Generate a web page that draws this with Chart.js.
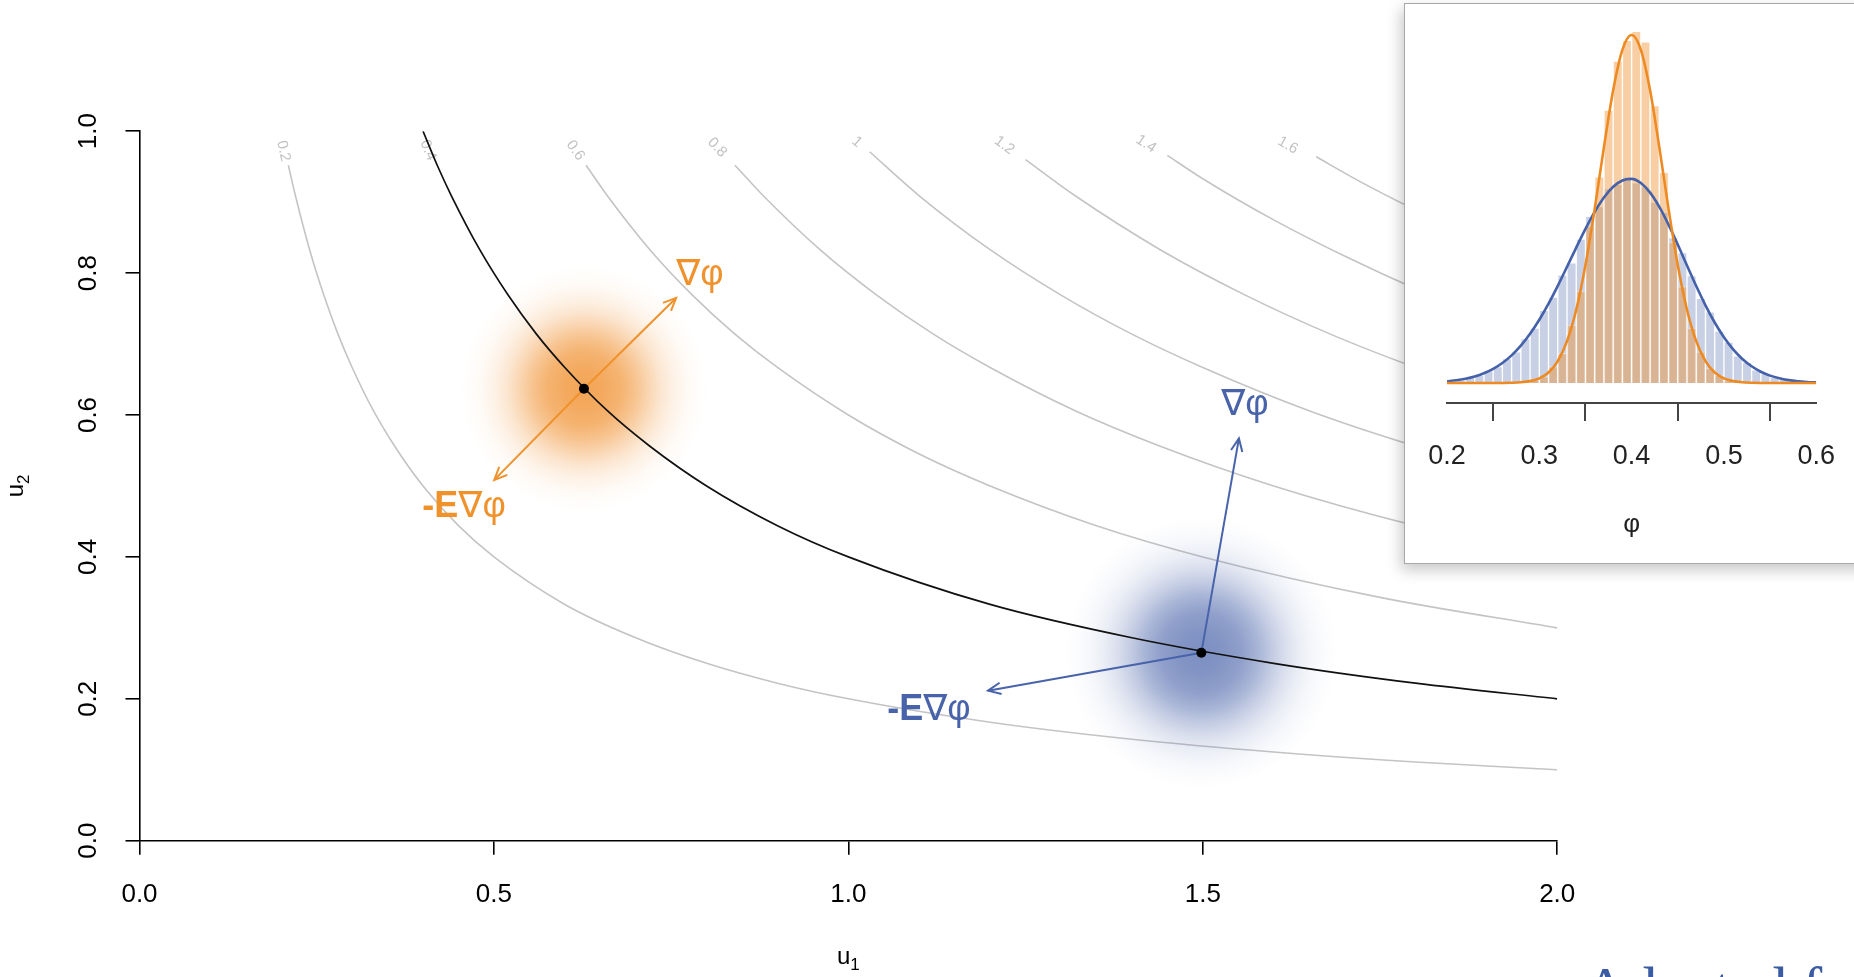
<!DOCTYPE html>
<html>
<head>
<meta charset="utf-8">
<script src="https://cdn.jsdelivr.net/npm/chart.js@4.4.1/dist/chart.umd.min.js"></script>
<style>
html, body { margin: 0; padding: 0; background: #fff; overflow: hidden; }
#wrap { position: relative; width: 1854px; height: 977px; overflow: hidden; }
#main { position: absolute; left: 0; top: 0; }
#insetBox { position: absolute; left: 1404px; top: 3px; width: 520px; height: 559px; border: 1.5px solid #a8a8a8; background: #fff; box-shadow: -3px 6px 14px rgba(0,0,0,0.22); }
#inset { position: absolute; left: 1406px; top: 4px; }
#credit { position: absolute; left: 1584px; top: 958px; font-family: 'Liberation Serif', 'Times New Roman', serif; font-size: 60px; line-height: 1; color: #3b5ca3; white-space: nowrap; }
</style>
</head>
<body>
<div id="wrap">
  <canvas id="main" width="1854" height="977"></canvas>
  <div id="insetBox"></div>
  <canvas id="inset" width="448" height="559"></canvas>
  <div id="credit">Adapted from</div>
</div>
<script>
// ---- main panel: contours of phi = u1*u2 as [u1, u2]
var level02 = [[0.21,0.952],[0.22,0.909],[0.24,0.833],[0.26,0.769],[0.28,0.714],[0.30,0.667],[0.33,0.606],[0.36,0.556],[0.40,0.500],[0.45,0.444],[0.50,0.400],[0.60,0.333],[0.70,0.286],[0.80,0.250],[0.90,0.222],[1.00,0.200],[1.20,0.167],[1.40,0.143],[1.60,0.125],[1.80,0.111],[2.00,0.100]];
var level04 = [[0.40,1.000],[0.42,0.952],[0.44,0.909],[0.48,0.833],[0.52,0.769],[0.56,0.714],[0.60,0.667],[0.66,0.606],[0.72,0.556],[0.80,0.500],[0.90,0.444],[1.00,0.400],[1.20,0.333],[1.40,0.286],[1.60,0.250],[1.80,0.222],[2.00,0.200]];
var level06 = [[0.63,0.952],[0.66,0.909],[0.72,0.833],[0.78,0.769],[0.84,0.714],[0.90,0.667],[1.00,0.600],[1.10,0.545],[1.20,0.500],[1.35,0.444],[1.50,0.400],[1.75,0.343],[2.00,0.300]];
var level08 = [[0.84,0.952],[0.88,0.909],[0.96,0.833],[1.04,0.769],[1.12,0.714],[1.20,0.667],[1.32,0.606],[1.44,0.556],[1.60,0.500],[1.80,0.444],[2.00,0.400]];
var level10 = [[1.03,0.971],[1.10,0.909],[1.20,0.833],[1.30,0.769],[1.40,0.714],[1.50,0.667],[1.65,0.606],[1.80,0.556],[2.00,0.500]];
var level12 = [[1.25,0.960],[1.32,0.909],[1.44,0.833],[1.56,0.769],[1.68,0.714],[1.80,0.667],[2.00,0.600]];
var level14 = [[1.45,0.966],[1.50,0.933],[1.60,0.875],[1.70,0.824],[1.80,0.778],[1.90,0.737],[2.00,0.700]];
var level16 = [[1.66,0.964],[1.72,0.930],[1.80,0.889],[1.90,0.842],[2.00,0.800]];
var level18 = [[1.87,0.963],[1.93,0.933],[2.00,0.900]];

var contourLabels = ['0.2','0.4','0.6','0.8','1','1.2','1.4','1.6'];
var contourLabelU1 = [0.203,0.407,0.615,0.815,1.012,1.22,1.42,1.62];
var contourLabelU2 = [0.972,0.973,0.973,0.977,0.985,0.980,0.982,0.980];

// sample clouds (centre and spread, data units)
var orangeCentre = [0.627, 0.637];
var blueCentre = [1.498, 0.265];
var cloudSpread = [0.050, 0.055];

// arrow tips
var orangeGradTip = [0.757, 0.765];
var orangeNegTip = [0.5005, 0.5085];
var blueGradTip = [1.551, 0.567];
var blueNegTip = [1.197, 0.2115];

var xTickLabels = ['0.0','0.5','1.0','1.5','2.0'];
var yTickLabels = ['0.0','0.2','0.4','0.6','0.8','1.0'];

// ---- inset: distribution of phi
var phiGrid = [0.20,0.21,0.22,0.23,0.24,0.25,0.26,0.27,0.28,0.29,0.30,0.31,0.32,0.33,0.34,0.35,0.36,0.37,0.38,0.39,0.40,0.41,0.42,0.43,0.44,0.45,0.46,0.47,0.48,0.49,0.50,0.51,0.52,0.53,0.54,0.55,0.56,0.57,0.58,0.59,0.60];
var orangeDensity = [0,0,0,0,0,0.001,0.002,0.008,0.023,0.063,0.155,0.353,0.737,1.41,2.47,3.98,5.87,7.95,9.87,11.23,11.73,11.23,9.87,7.95,5.87,3.98,2.47,1.41,0.737,0.353,0.155,0.063,0.023,0.008,0.002,0.001,0,0,0,0,0];
var blueDensity = [0.057,0.092,0.144,0.219,0.327,0.475,0.673,0.931,1.257,1.657,2.131,2.674,3.274,3.913,4.563,5.193,5.768,6.252,6.613,6.826,6.879,6.739,6.418,5.939,5.340,4.666,3.961,3.267,2.619,2.040,1.544,1.135,0.811,0.563,0.380,0.249,0.159,0.098,0.059,0.035,0.020];
var binCentres = [0.205,0.215,0.225,0.235,0.245,0.255,0.265,0.275,0.285,0.295,0.305,0.315,0.325,0.335,0.345,0.355,0.365,0.375,0.385,0.395,0.405,0.415,0.425,0.435,0.445,0.455,0.465,0.475,0.485,0.495,0.505,0.515,0.525,0.535,0.545,0.555,0.565,0.575,0.585,0.595];
var orangeHist = [0,0,0,0,0,0,0,0.01,0.04,0.11,0.22,0.55,1.00,1.95,3.10,5.30,6.95,9.20,10.85,11.55,11.85,11.50,9.35,7.10,4.75,3.25,1.85,1.05,0.50,0.26,0.09,0.04,0.01,0,0,0,0,0,0,0];
var blueHist = [0.07,0.10,0.20,0.26,0.42,0.55,0.82,1.05,1.50,1.85,2.45,2.90,3.65,4.05,4.85,5.62,5.95,6.55,6.70,6.95,6.75,6.62,6.10,5.75,4.90,4.40,3.62,2.85,2.40,1.75,1.38,0.92,0.70,0.44,0.32,0.19,0.13,0.07,0.05,0.02];
var phiTickLabels = ['0.2','0.3','0.4','0.5','0.6'];

var ORANGE = '#f0922c';
var BLUE = '#4863aa';
var FONT = "'Liberation Sans', Arial, sans-serif";

Chart.defaults.font.family = FONT;
Chart.defaults.color = '#000';

function pts(arr) { return arr.map(function(p) { return {x: p[0], y: p[1]}; }); }

// text next to the arrows
var notes = [
  {at: [0.7907, 0.7974], color: ORANGE, parts: [['\u2207\u03c6', false]]},
  {at: [0.4578, 0.4704], color: ORANGE, parts: [['-E', true], ['\u2207\u03c6', false]]},
  {at: [1.5594, 0.6142], color: BLUE, parts: [['\u2207\u03c6', false]]},
  {at: [1.1137, 0.1843], color: BLUE, parts: [['-E', true], ['\u2207\u03c6', false]]}
];

function cloudPx(c, idx) {
  var sx = c.chart.scales.x;
  return cloudSpread[idx] * 3.5 * (sx.getPixelForValue(1) - sx.getPixelForValue(0));
}
function cloudColour(rgb, idx, core) {
  return function(c) {
    if (!c.raw) return 'rgba(0,0,0,0)';
    var ch = c.chart, sx = ch.scales.x, sy = ch.scales.y;
    var px = sx.getPixelForValue(c.raw.x), py = sy.getPixelForValue(c.raw.y);
    var r = cloudPx(c, idx);
    if (!isFinite(px) || !isFinite(py) || !(r > 0)) return 'rgba(0,0,0,0)';
    var g = ch.ctx.createRadialGradient(px, py, 0, px, py, r);
    var stops = [[0,1],[0.15,0.96],[0.3,0.85],[0.42,0.66],[0.52,0.46],[0.62,0.28],[0.72,0.15],[0.82,0.07],[0.91,0.025],[1,0]];
    stops.forEach(function(s) { g.addColorStop(s[0], 'rgba(' + rgb + ',' + (s[1] * core).toFixed(3) + ')'); });
    return g;
  };
}
function cloudRadius(idx) {
  return function(c) { var r = cloudPx(c, idx); return isFinite(r) ? r : 0; };
}

var contourText = {
  id: 'contourText',
  beforeDatasetsDraw: function(chart) {
    var ctx = chart.ctx, sx = chart.scales.x, sy = chart.scales.y;
    var lv = [level02, level04, level06, level08, level10, level12, level14, level16];
    ctx.save();
    ctx.fillStyle = '#c2c2c2';
    ctx.font = '15px ' + FONT;
    ctx.textAlign = 'center';
    ctx.textBaseline = 'middle';
    contourLabels.forEach(function(t, i) {
      var a = lv[i][0], b = lv[i][1];
      var ang = Math.atan2(sy.getPixelForValue(b[1]) - sy.getPixelForValue(a[1]), sx.getPixelForValue(b[0]) - sx.getPixelForValue(a[0]));
      ctx.save();
      ctx.translate(sx.getPixelForValue(contourLabelU1[i]), sy.getPixelForValue(contourLabelU2[i]));
      ctx.rotate(ang);
      ctx.fillText(t, 0, 0);
      ctx.restore();
    });
    ctx.restore();
  }
};

function subLabel(ctx, base, sub, x, y) {
  ctx.font = '24px ' + FONT;
  var w1 = ctx.measureText(base).width;
  ctx.font = '17px ' + FONT;
  var w2 = ctx.measureText(sub).width;
  var left = x - (w1 + w2) / 2;
  ctx.textAlign = 'left';
  ctx.textBaseline = 'middle';
  ctx.font = '24px ' + FONT;
  ctx.fillText(base, left, y);
  ctx.font = '17px ' + FONT;
  ctx.fillText(sub, left + w1, y + 8);
}

var arrowsAndNotes = {
  id: 'arrowsAndNotes',
  afterDatasetsDraw: function(chart) {
    var ctx = chart.ctx, sx = chart.scales.x, sy = chart.scales.y;
    chart.data.datasets.forEach(function(ds, i) {
      if (!ds.arrowHead) return;
      var p = chart.getDatasetMeta(i).data;
      var a = p[p.length - 2], b = p[p.length - 1];
      var ang = Math.atan2(b.y - a.y, b.x - a.x), L = 14, w = 0.42;
      ctx.save();
      ctx.strokeStyle = ds.borderColor;
      ctx.lineWidth = ds.borderWidth;
      ctx.beginPath();
      ctx.moveTo(b.x - L * Math.cos(ang - w), b.y - L * Math.sin(ang - w));
      ctx.lineTo(b.x, b.y);
      ctx.lineTo(b.x - L * Math.cos(ang + w), b.y - L * Math.sin(ang + w));
      ctx.stroke();
      ctx.restore();
    });
    ctx.save();
    ctx.textBaseline = 'middle';
    ctx.textAlign = 'left';
    notes.forEach(function(n) {
      var fonts = n.parts.map(function(p) { return (p[1] ? 'bold ' : '') + "36px 'Liberation Sans', 'DejaVu Sans', sans-serif"; });
      var total = 0;
      n.parts.forEach(function(p, k) { ctx.font = fonts[k]; total += ctx.measureText(p[0]).width; });
      var x = sx.getPixelForValue(n.at[0]) - total / 2, y = sy.getPixelForValue(n.at[1]);
      ctx.fillStyle = n.color;
      n.parts.forEach(function(p, k) { ctx.font = fonts[k]; ctx.fillText(p[0], x, y); x += ctx.measureText(p[0]).width; });
    });
    ctx.restore();
  },
  afterDraw: function(chart) {
    // axis titles u1 / u2 with real subscripts
    var ctx = chart.ctx, a = chart.chartArea;
    ctx.save();
    ctx.fillStyle = '#000';
    subLabel(ctx, 'u', '1', (a.left + a.right) / 2, 957);
    ctx.translate(16, (a.top + a.bottom) / 2);
    ctx.rotate(-Math.PI / 2);
    subLabel(ctx, 'u', '2', 0, 0);
    ctx.restore();
  }
};

var greyLevels = [level02, level06, level08, level10, level12, level14, level16, level18];
var mainSets = greyLevels.map(function(l) {
  return {data: pts(l), borderColor: '#c4c4c4', borderWidth: 1.6, pointRadius: 0, cubicInterpolationMode: 'monotone', order: 5};
});
mainSets.push({data: pts(level04), borderColor: '#111', borderWidth: 1.7, pointRadius: 0, cubicInterpolationMode: 'monotone', order: 2});
mainSets.push({data: pts([orangeCentre]), showLine: false, pointRadius: cloudRadius(0), pointBorderWidth: 0, pointBackgroundColor: cloudColour('241,150,58', 0, 0.85), order: 3});
mainSets.push({data: pts([blueCentre]), showLine: false, pointRadius: cloudRadius(1), pointBorderWidth: 0, pointBackgroundColor: cloudColour('74,100,170', 1, 0.72), order: 3});
[[orangeCentre, orangeGradTip, ORANGE], [orangeCentre, orangeNegTip, ORANGE], [blueCentre, blueGradTip, BLUE], [blueCentre, blueNegTip, BLUE]].forEach(function(a) {
  mainSets.push({data: pts([a[0], a[1]]), borderColor: a[2], borderWidth: 2, pointRadius: 0, arrowHead: true, order: 1});
});
mainSets.push({data: pts([orangeCentre, blueCentre]), showLine: false, pointRadius: 5, pointBackgroundColor: '#000', pointBorderWidth: 0, order: 0});

new Chart(document.getElementById('main'), {
  type: 'line',
  data: {datasets: mainSets},
  options: {
    responsive: false, animation: false, events: [],
    layout: {padding: {left: 0, top: 131.2, right: 296.8, bottom: 0}},
    plugins: {legend: {display: false}, tooltip: {enabled: false}},
    scales: {
      x: {
        type: 'linear', min: 0, max: 2,
        afterFit: function(s) { s.height = 136.3; },
        ticks: {stepSize: 0.5, autoSkip: false, maxRotation: 0, padding: 25, font: {size: 26}, color: '#000',
          callback: function(v, i) { return xTickLabels[i]; }},
        grid: {drawOnChartArea: false, drawTicks: true, tickLength: 14, color: '#000', lineWidth: 1.6},
        border: {display: true, color: '#000', width: 1.6}
      },
      y: {
        type: 'linear', min: 0, max: 1,
        afterFit: function(s) { s.width = 139.5; },
        ticks: {stepSize: 0.2, autoSkip: false, minRotation: 90, maxRotation: 90, crossAlign: 'center', padding: 19, font: {size: 26}, color: '#000',
          callback: function(v, i) { return yTickLabels[i]; }},
        grid: {drawOnChartArea: false, drawTicks: true, tickLength: 14, color: '#000', lineWidth: 1.6},
        border: {display: true, color: '#000', width: 1.6}
      }
    }
  },
  plugins: [contourText, arrowsAndNotes]
});

// ---- inset histogram + densities
new Chart(document.getElementById('inset'), {
  type: 'bar',
  data: {datasets: [
    {type: 'line', data: phiGrid.map(function(x, i) { return {x: x, y: orangeDensity[i]}; }), borderColor: '#ee8a22', borderWidth: 2.6, pointRadius: 0, cubicInterpolationMode: 'monotone', order: 0},
    {type: 'line', data: phiGrid.map(function(x, i) { return {x: x, y: blueDensity[i]}; }), borderColor: '#4461a9', borderWidth: 2.6, pointRadius: 0, cubicInterpolationMode: 'monotone', order: 1},
    {type: 'bar', data: binCentres.map(function(x, i) { return {x: x, y: orangeHist[i]}; }), backgroundColor: 'rgba(238,146,48,0.44)', borderColor: 'rgba(255,255,255,0.35)', borderWidth: 1, order: 2},
    {type: 'bar', data: binCentres.map(function(x, i) { return {x: x, y: blueHist[i]}; }), backgroundColor: 'rgba(68,98,168,0.3)', borderColor: 'rgba(255,255,255,0.35)', borderWidth: 1, order: 3}
  ]},
  options: {
    responsive: false, animation: false, events: [],
    layout: {padding: {left: 41, right: 36.5, top: 10, bottom: 0}},
    plugins: {legend: {display: false}, tooltip: {enabled: false}},
    datasets: {bar: {grouped: false, barPercentage: 1, categoryPercentage: 1}},
    scales: {
      x: {
        type: 'linear', min: 0.2, max: 0.6, offset: false,
        afterFit: function(s) { s.height = 160; },
        ticks: {stepSize: 0.1, autoSkip: false, maxRotation: 0, padding: 19, font: {size: 27}, color: '#222',
          callback: function(v, i) { return phiTickLabels[i]; }},
        grid: {drawOnChartArea: false, drawTicks: true, tickLength: 18, color: '#444', lineWidth: 2},
        border: {display: true, color: '#444', width: 2},
        title: {display: true, text: '\u03c6', font: {size: 26}, color: '#222', padding: {top: 0, bottom: 23}}
      },
      y: {display: false, min: -0.674, max: 12.437}
    }
  }
});
</script>
</body>
</html>
